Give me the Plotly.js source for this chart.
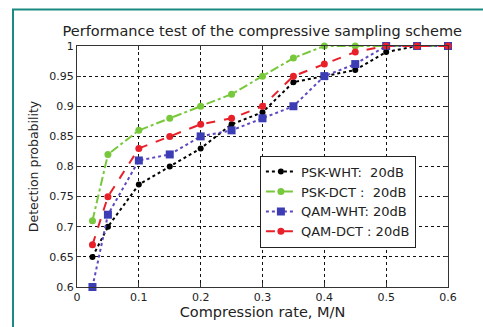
<!DOCTYPE html>
<html><head><meta charset="utf-8">
<script src="https://cdn.plot.ly/plotly-3.0.1.min.js"></script>
<style>html,body{margin:0;padding:0;background:#fff;}#c{width:483px;height:327px;}</style>
</head><body><div id="c"></div>
<script>
const rate = [0.025, 0.05, 0.1, 0.15, 0.2, 0.25, 0.3, 0.35, 0.4, 0.45, 0.5, 0.55, 0.6];
const pskWHT = [0.65, 0.70, 0.77, 0.80, 0.83, 0.87, 0.89, 0.94, 0.95, 0.96, 0.99, 1.0, 1.0];
const pskDCT = [0.71, 0.82, 0.86, 0.88, 0.90, 0.92, 0.95, 0.98, 1.0, 1.0, 1.0, 1.0, 1.0];
const qamWHT = [0.60, 0.72, 0.81, 0.82, 0.85, 0.86, 0.88, 0.90, 0.95, 0.97, 1.0, 1.0, 1.0];
const qamDCT = [0.67, 0.75, 0.83, 0.85, 0.87, 0.88, 0.90, 0.95, 0.97, 0.99, 1.0, 1.0, 1.0];
const names = ['PSK-WHT:  20dB', 'PSK-DCT :  20dB', 'QAM-WHT: 20dB', 'QAM-DCT : 20dB'];
const xTicks = [0, 0.1, 0.2, 0.3, 0.4, 0.5, 0.6];
const yTicks = [0.6, 0.65, 0.7, 0.75, 0.8, 0.85, 0.9, 0.95, 1];

const F = 'DejaVu Sans, Liberation Sans, sans-serif';
function tr(y, name, color, dash, sym, size, lc){
  return {x: rate, y: y, name: name, type: 'scatter', mode: 'lines+markers', cliponaxis: false,
    line: {color: lc || color, width: 2, dash: dash},
    marker: {color: color, symbol: sym, size: size, line: {width: 0}}};
}
const data = [
  tr(pskWHT, names[0], '#000000', 'dot', 'circle', 6),
  tr(pskDCT, names[1], '#78c83c', 'dashdot', 'circle', 7),
  tr(qamWHT, names[2], '#3c3cb4', 'dot', 'square', 8, '#6048c0'),
  tr(qamDCT, names[3], '#e8202a', 'dash', 'circle', 7)
];
const layout = {
  width: 483, height: 327,
  margin: {l: 77, r: 35, t: 46, b: 40},
  paper_bgcolor: '#ffffff', plot_bgcolor: '#ffffff',
  font: {family: F, size: 11, color: '#222'},
  title: {text: 'Performance test of the compressive sampling scheme', font: {family: F, size: 14.5, color: '#222'},
    xref: 'container', yref: 'container', x: 0.543, xanchor: 'center', y: 0.905, yanchor: 'middle'},
  xaxis: {range: [0, 0.6], tickvals: xTicks, ticktext: xTicks.map(String), showline: true, mirror: 'ticks',
    linecolor: '#333', linewidth: 1, ticks: 'inside', ticklen: 4, tickcolor: '#333',
    showgrid: true, gridcolor: '#111', griddash: 'dot', gridwidth: 1, zeroline: false,
    tickfont: {family: F, size: 11, color: '#222'},
    title: {text: 'Compression rate, M/N', font: {family: F, size: 14.5, color: '#222'}, standoff: 3}},
  yaxis: {range: [0.6, 1], tickvals: yTicks, ticktext: yTicks.map(String), showline: true, mirror: 'ticks',
    linecolor: '#333', linewidth: 1, ticks: 'inside', ticklen: 4, tickcolor: '#333',
    showgrid: true, gridcolor: '#111', griddash: 'dot', gridwidth: 1, zeroline: false,
    tickfont: {family: F, size: 11, color: '#222'},
    title: {text: 'Detection probability', font: {family: F, size: 12.5, color: '#222'}, standoff: 7}},
  showlegend: true,
  legend: {x: 0.493, y: 0.545, xanchor: 'left', yanchor: 'top', bgcolor: '#ffffff', bordercolor: '#222', borderwidth: 1,
    font: {family: F, size: 13, color: '#222'}, tracegroupgap: 0, itemwidth: 30},
  shapes: [
    {type: 'path', xref: 'paper', yref: 'paper', path: 'M -0.1725,-0.17 L -0.1725,1.151 L 1.1,1.151',
      line: {color: '#1a8a82', width: 2}}
  ]
};
Plotly.newPlot('c', data, layout, {displayModeBar: false, staticPlot: true});
</script></body></html>
